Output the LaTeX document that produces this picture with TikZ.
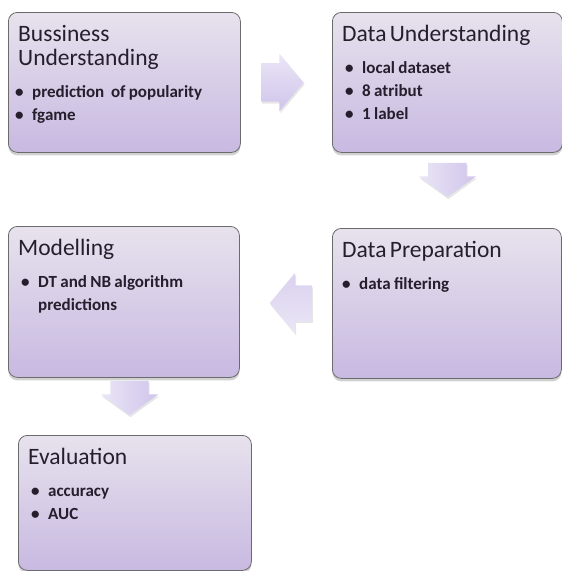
\documentclass[tikz,border=0pt]{standalone}
\usepackage{fontspec}
\setmainfont{Carlito}
\usepackage{tikz}
\usetikzlibrary{calc, shapes.arrows, shadows}

\definecolor{boxtop}{HTML}{E7E2ED}
\definecolor{boxbot}{HTML}{C8B9E1}
\definecolor{arrtop}{HTML}{EAE6F6}
\definecolor{arrbot}{HTML}{D0C4EB}
\definecolor{textdark}{HTML}{261E2C}

\newcommand{\stagetitle}{\fontsize{23.5}{24.5}\selectfont}
\newcommand{\stagelist}{\fontsize{17}{23}\selectfont\bfseries}
\newcommand{\bul}[1][3pt]{\hspace*{#1}\makebox[17pt][l]{\textbullet}}

\begin{document}
\begin{tikzpicture}
      [
        x=1pt, y=-1pt,
        stage/.style={draw=black!58, line width=0.8pt, rounded corners=9pt,
          top color=boxtop, bottom color=boxbot, anchor=north west, inner sep=0pt,
          drop shadow={shadow xshift=0pt, shadow yshift=-3pt, opacity=0.3, fill=black!60}},
        stagetext/.style={anchor=north west, inner xsep=10pt, inner ysep=13pt,
          align=left, text=textdark},
        blockarrow/.style={single arrow, anchor=tail, inner sep=0pt, text width=26pt,
          text height=19pt, text depth=19pt, single arrow head extend=9.5pt,
          single arrow tip angle=100,
          drop shadow={shadow xshift=1pt, shadow yshift=-2pt, opacity=0.2, fill=black!50}},
        rightarrow/.style={blockarrow, top color=arrtop, bottom color=arrbot},
        downarrow/.style={blockarrow, rotate=-90, text width=20pt,
          single arrow tip angle=108, left color=arrtop, right color=arrbot},
        leftarrow/.style={blockarrow, rotate=180, single arrow head extend=12.5pt,
          text height=17.5pt, text depth=17.5pt, text width=27pt,
          top color=arrbot!60!arrtop, bottom color=arrtop}
      ]
      \useasboundingbox (0,0) rectangle (562,571);
      % stage boxes
      \node [stage, minimum width=232pt, minimum height=140pt] (bu) at (8,12) {};
      \node [stage, minimum width=230pt, minimum height=140pt] (du) at (332,12) {};
      \node [stage, minimum width=229pt, minimum height=150pt] (dp) at (332,228) {};
      \node [stage, minimum width=231pt, minimum height=151pt] (mo) at (8,226) {};
      \node [stage, minimum width=233pt, minimum height=135pt] (ev) at (18,435) {};
      % texts
      \node [stagetext, text width=212pt] (bu-t) at (bu.north west)
        {{\stagetitle Bussiness\\Understanding\par}\vspace{9pt}
         {\stagelist \bul[-3pt]prediction\ \ of popularity\\ \bul[-3pt]fgame\par}};
      \node [stagetext, text width=210pt] (du-t) at (du.north west)
        {{\stagetitle Data Understanding\par}\vspace{9pt}
         {\stagelist \bul local dataset\\ \bul 8 atribut\\ \bul 1 label\par}};
      \node [stagetext, text width=209pt] (dp-t) at (dp.north west)
        {{\stagetitle Data Preparation\par}\vspace{9pt}
         {\stagelist \bul[0pt]data filtering\par}};
      \node [stagetext, text width=211pt] (mo-t) at (mo.north west)
        {{\stagetitle Modelling\par}\vspace{9pt}
         {\stagelist \bul DT and NB algorithm\\ \hspace*{20pt}predictions\par}};
      \node [stagetext, text width=213pt] (ev-t) at (ev.north west)
        {{\stagetitle Evaluation\par}\vspace{9pt}
         {\stagelist \bul accuracy\\ \bul AUC\par}};
      % block arrows between stages
      \node [rightarrow] (a1) at ($(bu.east)!0.22!(du.west)$) {};
      \node [downarrow] (a2) at ($(du.south)!0.13!(dp.north)$) {};
      \node [leftarrow] (a3) at ($(dp.west)!0.215!(mo.east)$) {};
      \node [downarrow] (a4) at ($(mo.south)!0.05!(ev.north)+(5,0)$) {};
\end{tikzpicture}
\end{document}
